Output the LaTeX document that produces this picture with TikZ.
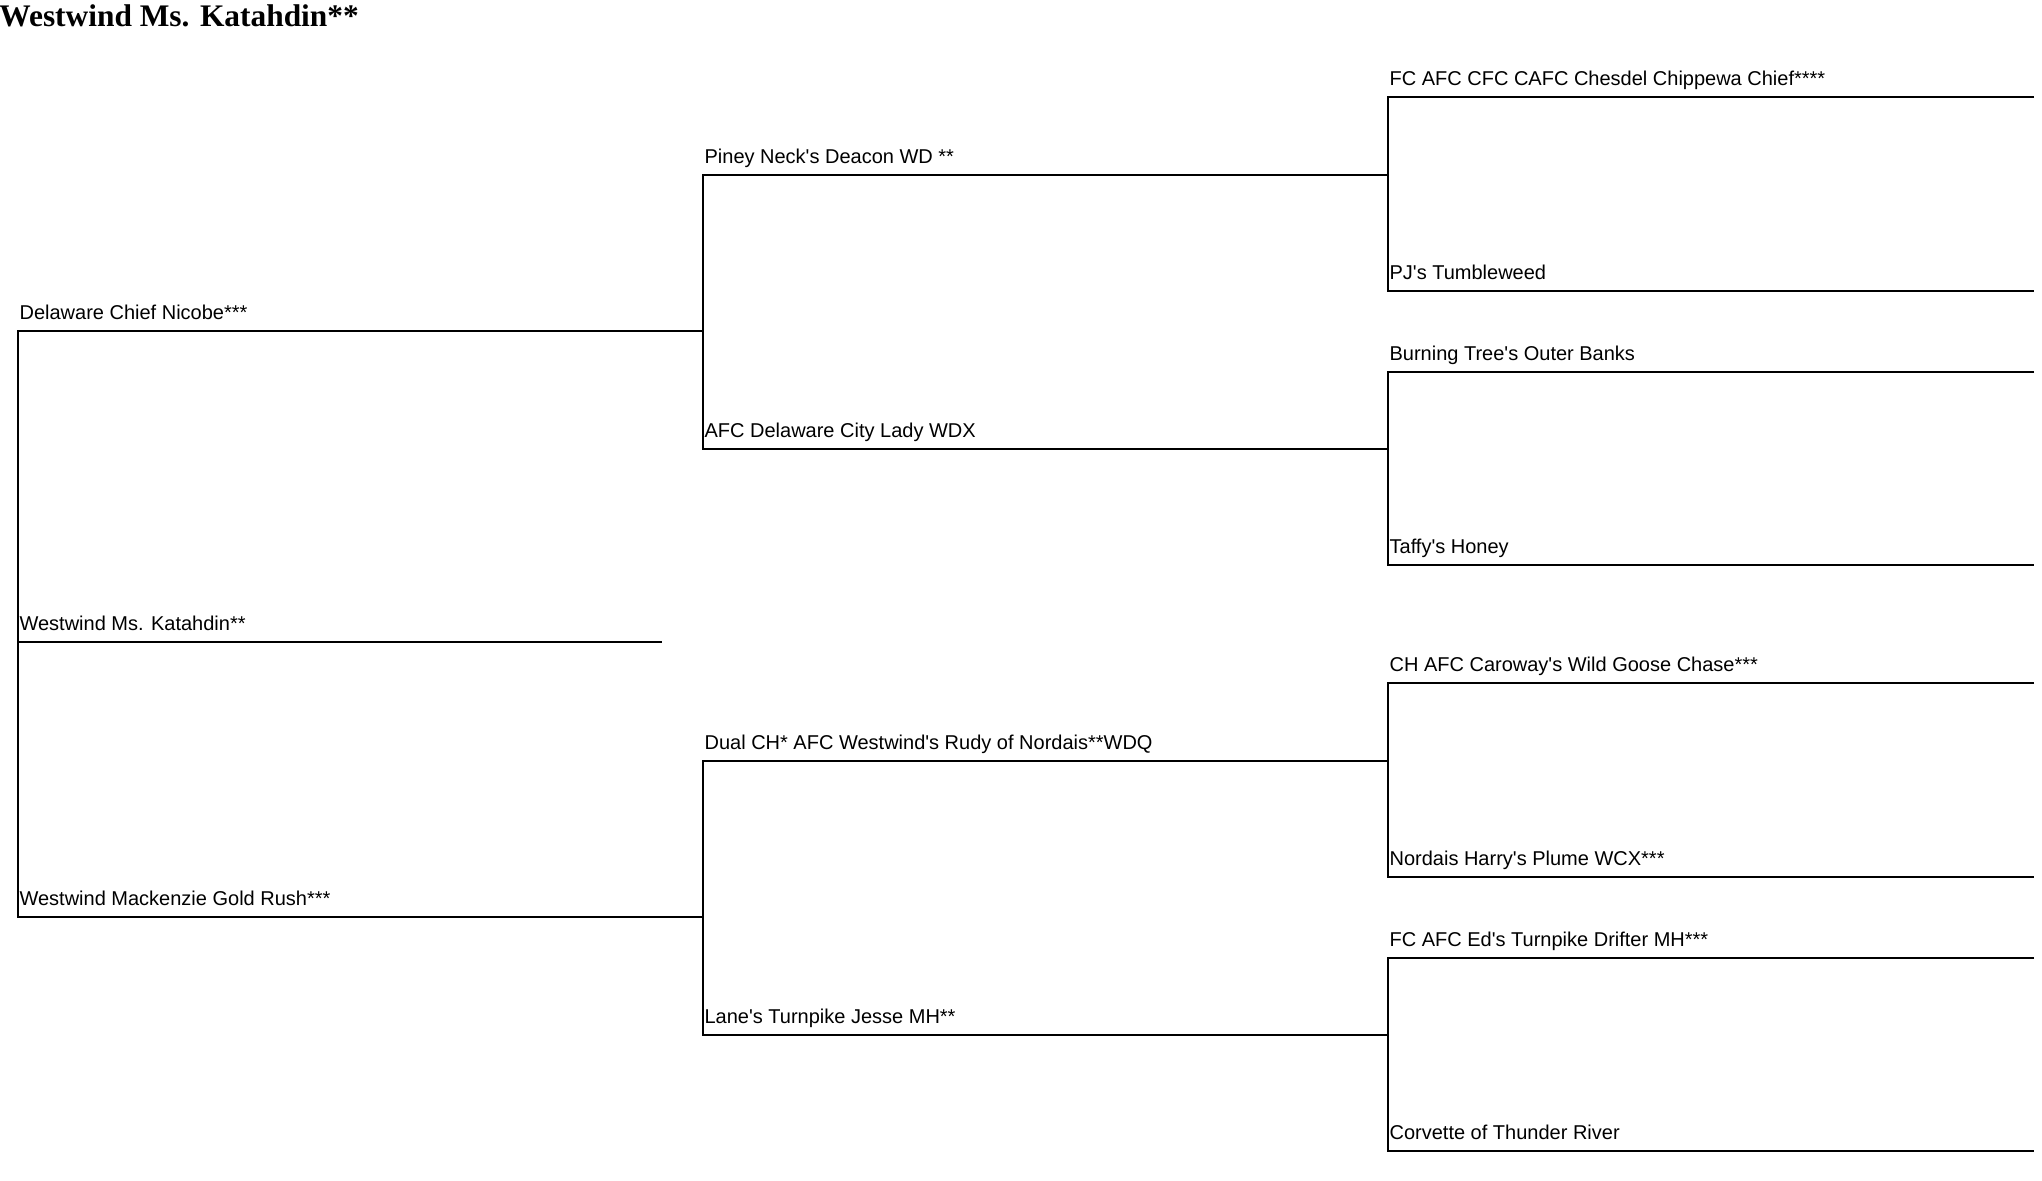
\documentclass[tikz,border=0pt]{standalone}
\usepackage{fontspec}
\newfontfamily\pedfont{Liberation Sans}
\newfontfamily\titlefont{Liberation Serif}
\usetikzlibrary{calc, positioning}

\tikzset{
    pedline/.style={line width=1pt},
    dogname/.style={anchor=base west, inner sep=0pt, xshift=0.6pt, yshift=5.7pt,
        font=\pedfont\fontsize{10}{12}\selectfont},
}

\begin{document}
\begin{tikzpicture}[x=0.5pt, y=-0.5pt]
        \useasboundingbox (0,0) rectangle (2042,1180);

        \node[anchor=base west, inner sep=0pt, font=\titlefont\bfseries\fontsize{15.7}{18}\selectfont]
            (title) at (-1,26) {Westwind Ms. Katahdin**};

        % first generation
        \coordinate (self) at (18,642);   \coordinate (selfE) at (662,642);
        \coordinate (sire) at (18,331);   \coordinate (sireE) at (703,331);
        \coordinate (dam)  at (18,917);   \coordinate (damE)  at (703,917);

        % second generation
        \coordinate (ss) at (703,175);    \coordinate (ssE) at (1388,175);
        \coordinate (sd) at (703,448.5);  \coordinate (sdE) at (1388,448.5);
        \coordinate (ds) at (703,761);    \coordinate (dsE) at (1388,761);
        \coordinate (dd) at (703,1034.5); \coordinate (ddE) at (1388,1034.5);

        % third generation
        \coordinate (sss) at (1388,97.2);  \coordinate (sssE) at (2034,97.2);
        \coordinate (ssd) at (1388,291.2); \coordinate (ssdE) at (2034,291.2);
        \coordinate (sds) at (1388,371.6); \coordinate (sdsE) at (2034,371.6);
        \coordinate (sdd) at (1388,564.6); \coordinate (sddE) at (2034,564.6);
        \coordinate (dss) at (1388,682.8); \coordinate (dssE) at (2034,682.8);
        \coordinate (dsd) at (1388,877);   \coordinate (dsdE) at (2034,877);
        \coordinate (dds) at (1388,957.6); \coordinate (ddsE) at (2034,957.6);
        \coordinate (ddd) at (1388,1150.6); \coordinate (dddE) at (2034,1150.6);

        \draw[pedline] (self) -- (selfE);
        \draw[pedline] (sireE) -- (sire) -- (dam) -- (damE);
        \draw[pedline] (ssE) -- (ss) -- (sd) -- (sdE);
        \draw[pedline] (dsE) -- (ds) -- (dd) -- (ddE);
        \draw[pedline] (sssE) -- (sss) -- (ssd) -- (ssdE);
        \draw[pedline] (sdsE) -- (sds) -- (sdd) -- (sddE);
        \draw[pedline] (dssE) -- (dss) -- (dsd) -- (dsdE);
        \draw[pedline] (ddsE) -- (dds) -- (ddd) -- (dddE);

        \node[dogname] (n-self) at (self) {Westwind Ms. Katahdin**};
        \node[dogname] (n-sire) at (sire) {Delaware Chief Nicobe***};
        \node[dogname] (n-dam)  at (dam)  {Westwind Mackenzie Gold Rush***};

        \node[dogname] (n-ss) at (ss) {Piney Neck's Deacon WD **};
        \node[dogname] (n-sd) at (sd) {AFC Delaware City Lady WDX};
        \node[dogname] (n-ds) at (ds) {Dual CH* AFC Westwind's Rudy of Nordais**WDQ};
        \node[dogname] (n-dd) at (dd) {Lane's Turnpike Jesse MH**};

        \node[dogname] (n-sss) at (sss) {FC AFC CFC CAFC Chesdel Chippewa Chief****};
        \node[dogname] (n-ssd) at (ssd) {PJ's Tumbleweed};
        \node[dogname] (n-sds) at (sds) {Burning Tree's Outer Banks};
        \node[dogname] (n-sdd) at (sdd) {Taffy's Honey};
        \node[dogname] (n-dss) at (dss) {CH AFC Caroway's Wild Goose Chase***};
        \node[dogname] (n-dsd) at (dsd) {Nordais Harry's Plume WCX***};
        \node[dogname] (n-dds) at (dds) {FC AFC Ed's Turnpike Drifter MH***};
        \node[dogname] (n-ddd) at (ddd) {Corvette of Thunder River};
    \end{tikzpicture}
\end{document}
